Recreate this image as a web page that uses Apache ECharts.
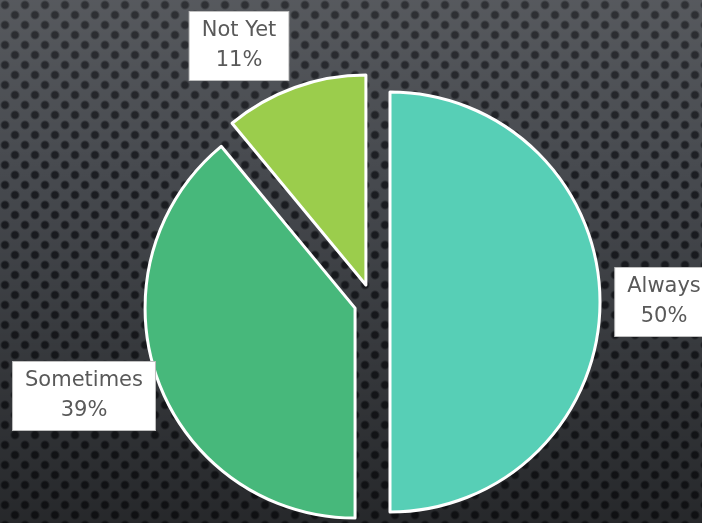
<!DOCTYPE html>
<html>
<head>
<meta charset="utf-8">
<script src="https://cdn.jsdelivr.net/npm/echarts@6/dist/echarts.min.js"></script>
<style>
html, body { margin:0; padding:0; }
#bg {
  position:absolute; left:0; top:0; width:702px; height:523px;
  background-color:#46494e;
  background-image:
    linear-gradient(to bottom, rgba(255,255,255,0.09) 0%, rgba(0,0,0,0) 35%, rgba(0,0,0,0.45) 100%),
    radial-gradient(circle, rgba(22,24,28,0.9) 0px, rgba(22,24,28,0.9) 3px, rgba(22,24,28,0) 5px),
    radial-gradient(circle, rgba(22,24,28,0.9) 0px, rgba(22,24,28,0.9) 3px, rgba(22,24,28,0) 5px);
  background-size: 702px 523px, 20px 20px, 20px 20px;
  background-position: 0 0, -5px -5px, 5px 5px;
}
#chart { position:absolute; left:0; top:0; width:702px; height:523px; }
</style>
</head>
<body>
<div id="bg"></div>
<div id="chart"></div>
<script>
const categories = ["Always", "Sometimes", "Not Yet"];
const values = [50, 39, 11];

const sliceColors = ["#57cfb6", "#47b87b", "#9bcd4c"];
const labelPos = [[664, 302], [84, 396], [239, 46]];

const pieCommon = {
  type: 'pie',
  center: [372, 302],
  radius: 210,
  startAngle: 90,
  clockwise: true,
  emphasis: { disabled: true },
  avoidLabelOverlap: false
};

const chart = echarts.init(document.getElementById('chart'), null, {renderer: 'canvas'});
chart.setOption({
  backgroundColor: 'transparent',
  animation: false,
  series: [
    Object.assign({}, pieCommon, {
      selectedMode: 'multiple',
      selectedOffset: 18,
      itemStyle: { borderColor: '#ffffff', borderWidth: 3 },
      label: { show: false },
      labelLine: { show: false },
      data: categories.map((c, i) => ({
        name: c, value: values[i], selected: true,
        itemStyle: { color: sliceColors[i] }
      }))
    }),
    Object.assign({}, pieCommon, {
      silent: true,
      z: 5,
      itemStyle: { color: 'rgba(0,0,0,0)', borderWidth: 0 },
      label: {
        show: true,
        position: 'outside',
        overflow: 'none',
        formatter: '{b}\n{d}%',
        color: '#595959',
        fontFamily: 'DejaVu Sans',
        fontSize: 21,
        lineHeight: 30,
        backgroundColor: '#ffffff',
        borderColor: '#bfbfbf',
        borderWidth: 1,
        padding: [4, 12, 4, 12],
        align: 'center',
        verticalAlign: 'middle'
      },
      labelLine: { show: false },
      labelLayout: function (p) {
        const pos = labelPos[p.dataIndex];
        return { x: pos[0], y: pos[1], align: 'center', verticalAlign: 'middle' };
      },
      data: categories.map((c, i) => ({ name: c, value: values[i] }))
    })
  ]
});
</script>
</body>
</html>
